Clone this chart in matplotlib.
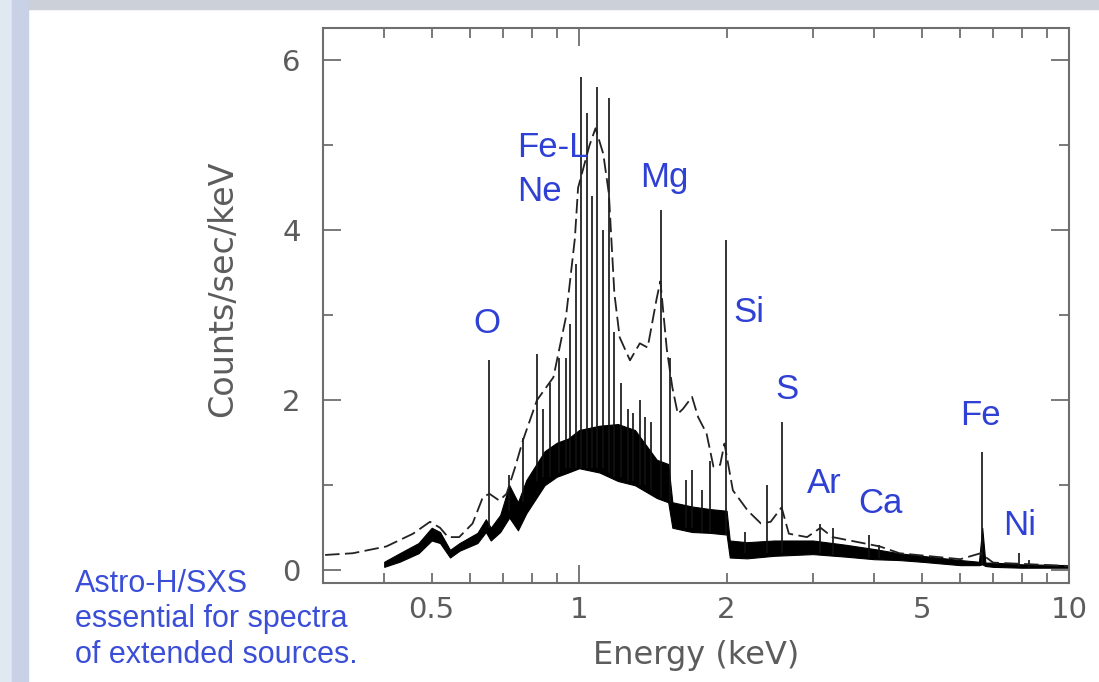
import matplotlib
matplotlib.use('Agg')
import matplotlib.pyplot as plt
from matplotlib.patches import Rectangle
from matplotlib.ticker import LogLocator, FuncFormatter, MultipleLocator

# continuum band of the high resolution spectrum (keV, lower / upper edge)
band_energy = [0.40, 0.43, 0.47, 0.50, 0.52, 0.545, 0.57, 0.62, 0.645, 0.66, 0.69, 0.72, 0.75,
               0.78, 0.85, 0.90, 0.95, 1.00, 1.10, 1.20, 1.30, 1.44, 1.52, 1.55, 1.70, 1.85,
               2.00, 2.03, 2.20, 2.50, 3.00, 3.50, 4.00, 4.50, 5.00, 6.00, 6.55, 6.65, 6.75,
               7.00, 8.00, 10.0]
band_low = [0.04, 0.10, 0.20, 0.35, 0.32, 0.15, 0.23, 0.32, 0.45, 0.35, 0.45, 0.62, 0.47,
            0.67, 1.00, 1.10, 1.15, 1.20, 1.15, 1.05, 1.00, 0.85, 0.80, 0.50, 0.45, 0.44,
            0.42, 0.15, 0.14, 0.17, 0.19, 0.16, 0.13, 0.12, 0.10, 0.06, 0.06, 0.07, 0.05,
            0.04, 0.03, 0.03]
band_high = [0.10, 0.20, 0.32, 0.50, 0.45, 0.24, 0.32, 0.44, 0.60, 0.50, 0.65, 1.00, 0.80,
             1.06, 1.40, 1.50, 1.55, 1.65, 1.70, 1.72, 1.65, 1.30, 1.25, 0.80, 0.75, 0.72,
             0.70, 0.35, 0.33, 0.35, 0.35, 0.30, 0.25, 0.20, 0.17, 0.12, 0.10, 0.50, 0.09,
             0.09, 0.07, 0.06]

# narrow emission lines on top of the band (keV, base, peak)
line_energy = [0.654, 0.72, 0.768, 0.82, 0.845, 0.87, 0.91, 0.94, 0.96, 0.985, 1.01, 1.04,
               1.06, 1.09, 1.12, 1.15, 1.18, 1.22, 1.26, 1.29, 1.33, 1.36, 1.40, 1.47, 1.53,
               1.65, 1.70, 1.78, 1.85, 1.99, 2.18, 2.42, 2.60, 3.10, 3.30, 3.90, 4.10, 6.65,
               7.90, 8.30]
line_base = [0.50, 0.70, 0.80, 1.05, 1.10, 1.10, 1.15, 1.20, 1.20, 1.20, 1.20, 1.20,
             1.20, 1.20, 1.20, 1.15, 1.10, 1.10, 1.05, 1.05, 1.00, 1.00, 0.95, 0.85, 0.80,
             0.50, 0.50, 0.45, 0.45, 0.42, 0.20, 0.20, 0.20, 0.20, 0.18, 0.15, 0.14, 0.07,
             0.04, 0.03]
line_peak = [2.47, 1.12, 1.56, 2.55, 1.90, 2.20, 2.50, 2.50, 2.90, 3.60, 5.80, 5.38,
             4.40, 5.68, 4.00, 5.56, 2.80, 2.20, 1.90, 1.85, 2.00, 1.80, 1.75, 4.24, 2.50,
             1.06, 1.18, 0.95, 1.28, 3.88, 0.45, 1.00, 1.74, 0.55, 0.50, 0.42, 0.30, 1.39,
             0.20, 0.12]

# CCD resolution model (dashed)
ccd_energy = [0.303, 0.345, 0.404, 0.458, 0.496, 0.52, 0.54, 0.569, 0.606, 0.636, 0.656,
              0.687, 0.711, 0.739, 0.768, 0.82, 0.886, 0.94, 0.98, 0.995, 1.05, 1.08, 1.12,
              1.15, 1.18, 1.21, 1.27, 1.33, 1.38, 1.44, 1.465, 1.51, 1.55, 1.59, 1.63, 1.70,
              1.75, 1.82, 1.88, 1.94, 1.98, 2.06, 2.21, 2.35, 2.46, 2.59, 2.68, 2.92, 3.11,
              3.29, 3.87, 4.11, 4.51, 6.0, 6.6, 7.0, 10.0]
ccd_counts = [0.18, 0.20, 0.28, 0.43, 0.57, 0.50, 0.39, 0.39, 0.55, 0.86, 0.90,
              0.82, 0.90, 1.20, 1.53, 2.00, 2.27, 2.98, 3.90, 4.50, 5.00, 5.20, 4.90,
              4.43, 3.26, 2.74, 2.47, 2.67, 2.62, 3.20, 3.40, 2.60, 2.15, 1.84, 1.90, 2.04,
              1.80, 1.61, 1.22, 1.24, 1.49, 0.94, 0.70, 0.55, 0.57, 0.74, 0.43, 0.39, 0.50,
              0.39, 0.31, 0.28, 0.20, 0.13, 0.20, 0.09, 0.05]

# element labels (keV, counts at baseline)
elem_names = ['Fe-L', 'Ne', 'Mg', 'O', 'Si', 'S', 'Ar', 'Ca', 'Fe', 'Ni']
elem_x = [0.747, 0.747, 1.331, 0.648, 2.06, 2.51, 2.92, 3.71, 5.99, 7.33]
elem_y = [4.86, 4.35, 4.51, 2.79, 2.92, 2.01, 0.906, 0.67, 1.71, 0.41]
elem_ha = ['left', 'left', 'left', 'center', 'left', 'left', 'left', 'left', 'left', 'left']

note_lines = ['Astro-H/SXS', 'essential for spectra', 'of extended sources.']

W, H = 1099, 682
fig = plt.figure(figsize=(W / 100, H / 100), dpi=100)
fig.patch.set_facecolor('white')

# slide background strips
fig.patches.append(Rectangle((0, 1 - 9 / H), 1, 9 / H, transform=fig.transFigure,
                             color='#cbd0d9', zorder=0))
fig.patches.append(Rectangle((0, 0), 12 / W, 1, transform=fig.transFigure,
                             color='#e0e8f2', zorder=0))
fig.patches.append(Rectangle((12 / W, 0), 16 / W, 1, transform=fig.transFigure,
                             color='#c8d1e6', zorder=0))

ax = fig.add_axes([323 / W, 1 - 583 / H, 746 / W, 555 / H])
ax.set_xscale('log')
ax.set_xlim(0.3, 10)
ax.set_ylim(-0.15, 6.38)

ax.fill_between(band_energy, band_low, band_high, color='black', lw=0.8)
ax.vlines(line_energy, line_base, line_peak, color='#111111', lw=1.2)
ax.plot(ccd_energy, ccd_counts, color='#222222', lw=1.3, dashes=(8, 3))

grey = '#5c5c5c'
for s in ax.spines.values():
    s.set_color('#6e6e6e')
    s.set_linewidth(1.5)

ax.xaxis.set_major_locator(LogLocator(base=10, numticks=5))
ax.xaxis.set_minor_locator(LogLocator(base=10, subs=range(2, 10), numticks=20))
ax.xaxis.set_major_formatter(FuncFormatter(lambda v, p: '%g' % v))
ax.xaxis.set_minor_formatter(FuncFormatter(
    lambda v, p: '%g' % v if round(v, 3) in (0.5, 2, 5) else ''))
ax.yaxis.set_major_locator(MultipleLocator(2))
ax.yaxis.set_minor_locator(MultipleLocator(1))

ax.tick_params(which='both', direction='in', top=True, right=True, color='#6e6e6e',
               labelcolor=grey, labelsize=21, width=1.3)
ax.tick_params(which='major', length=13)
ax.tick_params(which='minor', length=7)
ax.tick_params(axis='x', which='both', pad=9)
ax.tick_params(axis='y', which='both', pad=16)

ax.set_xlabel('Energy (keV)', fontsize=23, color=grey, va='center')
ax.xaxis.set_label_coords(0.5, -0.13)
ax.set_ylabel('Counts/sec/keV', fontsize=24, color=grey, va='center')
ax.yaxis.set_label_coords(-0.135, 0.53)

blue = '#2f40d4'
for name, ex, ey, ha in zip(elem_names, elem_x, elem_y, elem_ha):
    ax.text(ex, ey, name, color=blue, fontsize=25, family='Liberation Sans',
            ha=ha, va='baseline')

for i, line in enumerate(note_lines):
    fig.text(75 / W, 1 - (592 + 35.5 * i) / H, line, color='#3a4ed8', fontsize=22,
             family='Liberation Sans', ha='left', va='baseline')

fig.savefig('out.png', dpi=100)
